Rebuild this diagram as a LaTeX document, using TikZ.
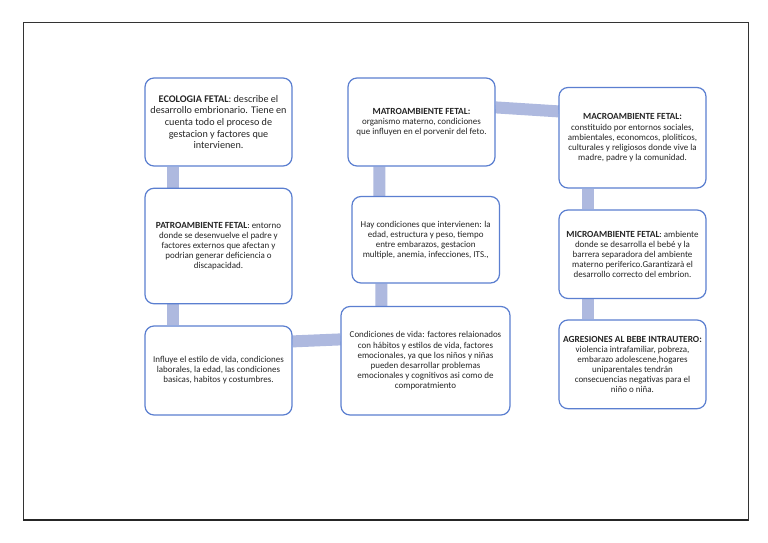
\documentclass[tikz,border=0pt]{standalone}
\usepackage{fontspec}
\setmainfont{Carlito}
\usetikzlibrary{calc,backgrounds}
\definecolor{boxline}{HTML}{5B7FD0}
\definecolor{connc}{HTML}{AEB9DF}
\definecolor{txt}{HTML}{262626}
\tikzset{
  box/.style={draw=boxline, line width=1.2bp, rounded corners=9bp, fill=white,
    inner sep=0pt, align=center, text=txt, font=\fontsize{9}{10.1}\selectfont},
  conn/.style={draw=connc, line width=12bp}
}
\newcommand{\hdr}[1]{{\bfseries\fontsize{9.4}{11}\selectfont #1}}
\begin{document}
\begin{tikzpicture}[x=1bp,y=-1bp]
\useasboundingbox (0,0) rectangle (768,543);
\draw[line width=0.8bp, black!80] (23,22) rectangle (748,520);
\draw[line width=1.6bp, black!85] (23,520) -- (748,520);

% boxes
\node[box, minimum width=147bp, minimum height=88bp, font=\fontsize{10.2}{11.7}\selectfont] (b1) at (218.5,122)
 {{\bfseries ECOLOGIA FETAL}: describe el\\desarrollo embrionario. Tiene en\\cuenta todo el proceso de\\gestacion y factores que\\intervienen.};
\node[box, minimum width=147bp, minimum height=115.5bp] (b2) at (218.5,246)
 {{\bfseries\fontsize{9.4}{10.1}\selectfont PATROAMBIENTE FETAL}: entorno\\donde se desenvuelve el padre y\\factores externos que afectan y\\podrian generar deficiencia o\\discapacidad.};
\node[box, minimum width=147bp, minimum height=89bp] (b3) at (218.5,370.5)
 {Influye el estilo de vida, condiciones\\laborales, la edad, las condiciones\\basicas, habitos y costumbres.};
\node[box, minimum width=147bp, minimum height=88bp] (b4) at (421.5,122)
 {\hdr{MATROAMBIENTE FETAL:}\\organismo materno, condiciones\\que influyen en el porvenir del feto.};
\node[box, minimum width=147.5bp, minimum height=86.5bp] (b5) at (425.75,239.75)
 {Hay condiciones que intervienen: la\\edad, estructura y peso, tiempo\\entre embarazos, gestacion\\multiple, anemia, infecciones, ITS.,};
\node[box, minimum width=169bp, minimum height=108.5bp] (b6) at (425.5,360.75)
 {Condiciones de vida: factores relaionados\\con hábitos y estilos de vida, factores\\emocionales, ya que los niños y niñas\\pueden desarrollar problemas\\emocionales y cognitivos asi como de\\comporatmiento};
\node[box, minimum width=147bp, minimum height=100.5bp] (b7) at (632.5,137.75)
 {\hdr{MACROAMBIENTE FETAL:}\\constituido por entornos sociales,\\ambientales, economcos, ploliticos,\\culturales y religiosos donde vive la\\madre, padre y la comunidad.};
\node[box, minimum width=147bp, minimum height=88.5bp] (b8) at (632.5,254.25)
 {{\bfseries\fontsize{9.4}{10.1}\selectfont MICROAMBIENTE FETAL}: ambiente\\donde se desarrolla el bebé y la\\barrera separadora del ambiente\\materno periferico.Garantizarà el\\desarrollo correcto del embrion.};
\node[box, minimum width=147bp, minimum height=88.7bp] (b9) at (632.5,364.35)
 {\hdr{AGRESIONES AL BEBE INTRAUTERO:}\\violencia intrafamiliar, pobreza,\\embarazo adolescene,hogares\\uniparentales tendrán\\consecuencias negativas para el\\niño o niña.};

% connectors (behind boxes)
\begin{scope}[on background layer]
\fill[white] (0,0) rectangle (768,543);
\draw[conn] ([xshift=29bp]b1.south west) -- ([xshift=29bp]b2.north west);
\draw[conn] ([xshift=29bp]b2.south west) -- ([xshift=29bp]b3.north west);
\draw[conn] ([yshift=-16bp]b3.north east) -- ([yshift=-33.5bp]b6.north west);
\draw[conn] ([xshift=41bp]b6.north west) -- ([xshift=30bp]b5.south west);
\draw[conn] ([xshift=28bp]b5.north west) -- ([xshift=32bp]b4.south west);
\draw[conn] ([yshift=-30bp]b4.north east) -- ([yshift=-24.5bp]b7.north west);
\draw[conn] ([xshift=30bp]b7.south west) -- ([xshift=30bp]b8.north west);
\draw[conn] ([xshift=30bp]b8.south west) -- ([xshift=30bp]b9.north west);
\end{scope}
\end{tikzpicture}
\end{document}
